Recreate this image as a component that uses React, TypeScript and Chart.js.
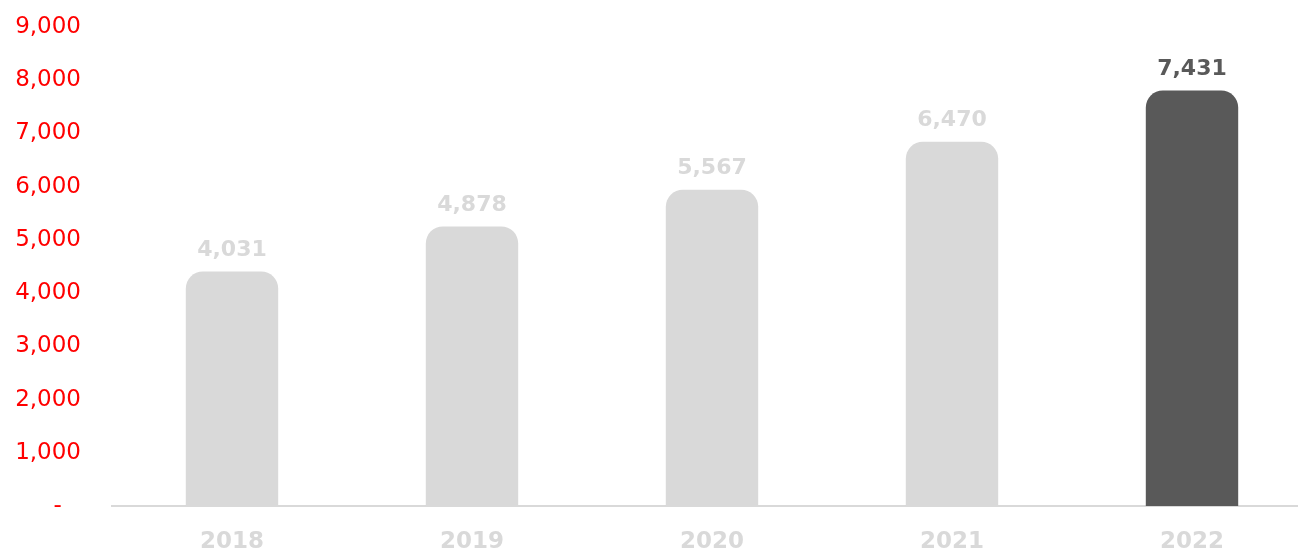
import React, { useEffect, useRef } from "react";
import { Chart, registerables } from "chart.js";

Chart.register(...registerables);

const categories = ["2018", "2019", "2020", "2021", "2022"];
const values = [4031, 4878, 5567, 6470, 7431];
const valueLabels = ["4,031", "4,878", "5,567", "6,470", "7,431"];
const yTickLabels = ["-\u2007\u2009", "1,000", "2,000", "3,000", "4,000", "5,000", "6,000", "7,000", "8,000", "9,000"];

const GREY = "#D9D9D9";
const DARK = "#595959";
const RED = "#FF0000";
const CAP_PX = 20;

const capPlugin = {
  id: "roundedCap",
  afterDatasetsUpdate(chart: any) {
    const meta = chart.getDatasetMeta(0);
    meta.data.forEach((el: any) => {
      el.y = el.y - CAP_PX;
    });
  },
};

const labelPlugin = {
  id: "valueLabels",
  afterDatasetsDraw(chart: any) {
    const ctx = chart.ctx;
    const meta = chart.getDatasetMeta(0);
    ctx.save();
    ctx.font = "bold 22px 'DejaVu Sans'";
    ctx.textAlign = "center";
    ctx.textBaseline = "middle";
    meta.data.forEach((el: any, i: number) => {
      ctx.fillStyle = i === categories.length - 1 ? DARK : GREY;
      ctx.fillText(valueLabels[i], el.x, el.y - 21);
    });
    ctx.restore();
  },
};

export default function App() {
  const ref = useRef<HTMLCanvasElement>(null);
  useEffect(() => {
    if (!ref.current) return;
    const chart = new Chart(ref.current, {
      type: "bar",
      data: {
        labels: categories,
        datasets: [
          {
            data: values,
            backgroundColor: categories.map((_, i) => (i === categories.length - 1 ? DARK : GREY)),
            borderRadius: { topLeft: 17, topRight: 17, bottomLeft: 0, bottomRight: 0 },
            borderSkipped: false,
            categoryPercentage: 1,
            barPercentage: 0.385,
          },
        ],
      },
      options: {
        responsive: false,
        animation: false,
        layout: { padding: { left: 0, top: 27, right: 0, bottom: 0 } },
        plugins: { legend: { display: false }, tooltip: { enabled: false } },
        scales: {
          x: {
            grid: { display: false, drawTicks: false },
            border: { display: true, color: GREY, width: 2 },
            ticks: {
              color: GREY,
              padding: 22,
              font: { family: "'DejaVu Sans'", size: 23, weight: "bold" },
            },
            afterFit(scale: any) {
              scale.height = 49;
            },
          },
          y: {
            min: 0,
            max: 9000,
            grid: { display: false, drawTicks: false },
            border: { display: false },
            ticks: {
              stepSize: 1000,
              color: RED,
              padding: 31,
              font: { family: "'DejaVu Sans'", size: 23 },
              callback: (_v: any, i: number) => yTickLabels[i],
            },
            afterFit(scale: any) {
              scale.width = 112;
              scale.paddingTop = 0;
              scale.paddingBottom = 0;
            },
          },
        },
      },
      plugins: [capPlugin, labelPlugin],
    });
    return () => chart.destroy();
  }, []);
  return (
    <div style={{ position: "absolute", left: 0, top: 0, width: 1298, height: 555, overflow: "hidden", background: "#fff" }}>
      <canvas ref={ref} width={1312} height={555} style={{ display: "block" }} />
    </div>
  );
}
